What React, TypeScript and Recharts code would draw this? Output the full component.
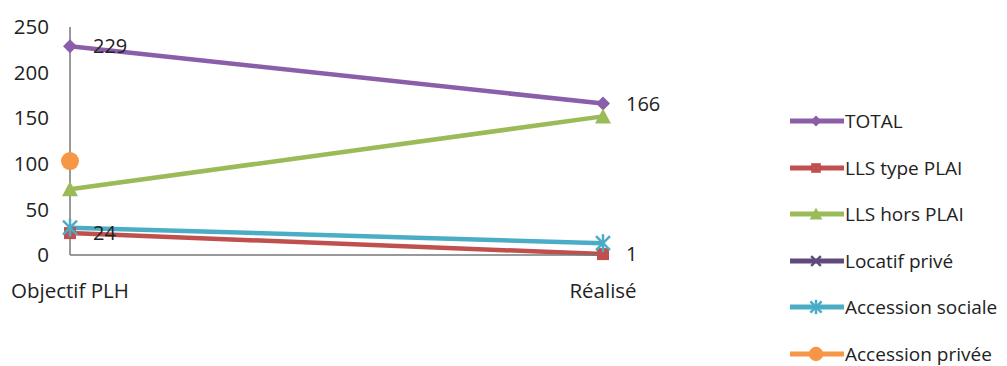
import React from 'react';
import { LineChart, Line, XAxis, YAxis, Legend, LabelList } from 'recharts';

// categories and series values
const categories = ['Objectif PLH', 'Réalisé'];
const total = [229, 166];
const llsPlai = [24, 1];
const llsHorsPlai = [72, 152];
const locatifPrive: (number | null)[] = [null, null];
const accessionSociale = [30, 13];
const accessionPrivee: (number | null)[] = [103, null];
const yTicks = [0, 50, 100, 150, 200, 250];

const seriesNames = ['TOTAL', 'LLS type PLAI', 'LLS hors PLAI', 'Locatif privé', 'Accession sociale', 'Accession privée'];
const seriesColors = ['#8a5ea8', '#c0504d', '#9bbb59', '#604a7b', '#4bacc6', '#f79646'];
const seriesKeys = ['total', 'llsPlai', 'llsHorsPlai', 'locatifPrive', 'accessionSociale', 'accessionPrivee'];
const seriesMarkers = ['diamond', 'square', 'triangle', 'x', 'star', 'circle'];

const data = categories.map((name, i) => ({
  name,
  total: total[i],
  llsPlai: llsPlai[i],
  llsHorsPlai: llsHorsPlai[i],
  locatifPrive: locatifPrive[i],
  accessionSociale: accessionSociale[i],
  accessionPrivee: accessionPrivee[i],
}));

const FONT = '"Open Sans", Lato, sans-serif';

function Marker({ kind, x, y, color, s = 1 }: { kind: string; x: number; y: number; color: string; s?: number }) {
  switch (kind) {
    case 'diamond':
      return <polygon points={`${x},${y - 7 * s} ${x + 7 * s},${y} ${x},${y + 7 * s} ${x - 7 * s},${y}`} fill={color} />;
    case 'square':
      return <rect x={x - 6 * s} y={y - 6 * s} width={12 * s} height={12 * s} fill={color} />;
    case 'triangle':
      return <polygon points={`${x},${y - 8 * s} ${x + 8 * s},${y + 7 * s} ${x - 8 * s},${y + 7 * s}`} fill={color} />;
    case 'x':
      return (
        <g stroke={color} strokeWidth={2.5}>
          <line x1={x - 6 * s} y1={y - 6 * s} x2={x + 6 * s} y2={y + 6 * s} />
          <line x1={x - 6 * s} y1={y + 6 * s} x2={x + 6 * s} y2={y - 6 * s} />
        </g>
      );
    case 'star':
      return (
        <g stroke={color} strokeWidth={2.5}>
          <line x1={x - 7 * s} y1={y - 7 * s} x2={x + 7 * s} y2={y + 7 * s} />
          <line x1={x - 7 * s} y1={y + 7 * s} x2={x + 7 * s} y2={y - 7 * s} />
          <line x1={x} y1={y - 9 * s} x2={x} y2={y + 9 * s} />
        </g>
      );
    default:
      return <circle cx={x} cy={y} r={9 * s} fill={color} />;
  }
}

const makeDot = (kind: string, color: string) => (props: any) => {
  const { cx, cy, index } = props;
  if (cx == null || cy == null || props.value == null) return <g key={`d-${kind}-${index}`} />;
  return (
    <g key={`d-${kind}-${index}`}>
      <Marker kind={kind} x={cx} y={cy} color={color} />
    </g>
  );
};

const CustomLegend = () => (
  <div style={{ fontFamily: FONT, fontSize: 19, color: '#222' }}>
    {seriesNames.map((name, i) => (
      <div key={name} style={{ display: 'flex', alignItems: 'center', height: 46.5 }}>
        <svg width={55} height={20}>
          <line x1={0} y1={10} x2={54} y2={10} stroke={seriesColors[i]} strokeWidth={5} />
          <Marker kind={seriesMarkers[i]} x={26} y={10} color={seriesColors[i]} s={0.8} />
        </svg>
        <span style={{ whiteSpace: 'nowrap' }}>{name}</span>
      </div>
    ))}
  </div>
);

export default function App() {
  return (
    <div style={{ position: 'absolute', left: 0, top: 0, width: 1007, height: 366, background: '#fff' }}>
      <LineChart width={1007} height={366} data={data} margin={{ top: 27, right: 187, bottom: 81, left: 0 }}>
        <XAxis
          dataKey="name"
          axisLine={{ stroke: '#777', strokeWidth: 1.5 }}
          tickLine={false}
          tickSize={0}
          tickMargin={28}
          height={30}
          tick={{ fill: '#222', fontSize: 20.5, fontFamily: FONT }}
        />
        <YAxis
          domain={[0, 250]}
          ticks={yTicks}
          width={70}
          axisLine={{ stroke: '#777', strokeWidth: 1.5 }}
          tickLine={false}
          tickSize={0}
          tickMargin={21}
          tick={{ fill: '#222', fontSize: 20.5, fontFamily: FONT }}
        />
        <Legend
          layout="vertical"
          verticalAlign="top"
          align="right"
          content={<CustomLegend />}
          wrapperStyle={{ position: 'absolute', left: 790, top: 98, width: 217 }}
        />
        {seriesKeys.map((key, i) => (
          <Line
            key={key}
            type="linear"
            dataKey={key}
            name={seriesNames[i]}
            stroke={seriesColors[i]}
            strokeWidth={4.5}
            dot={makeDot(seriesMarkers[i], seriesColors[i])}
            activeDot={false}
            isAnimationActive={false}
          >
            {(key === 'total' || key === 'llsPlai') && (
              <LabelList dataKey={key} position="right" offset={23} fill="#222" fontSize={20} fontFamily={FONT} />
            )}
          </Line>
        ))}
      </LineChart>
    </div>
  );
}
